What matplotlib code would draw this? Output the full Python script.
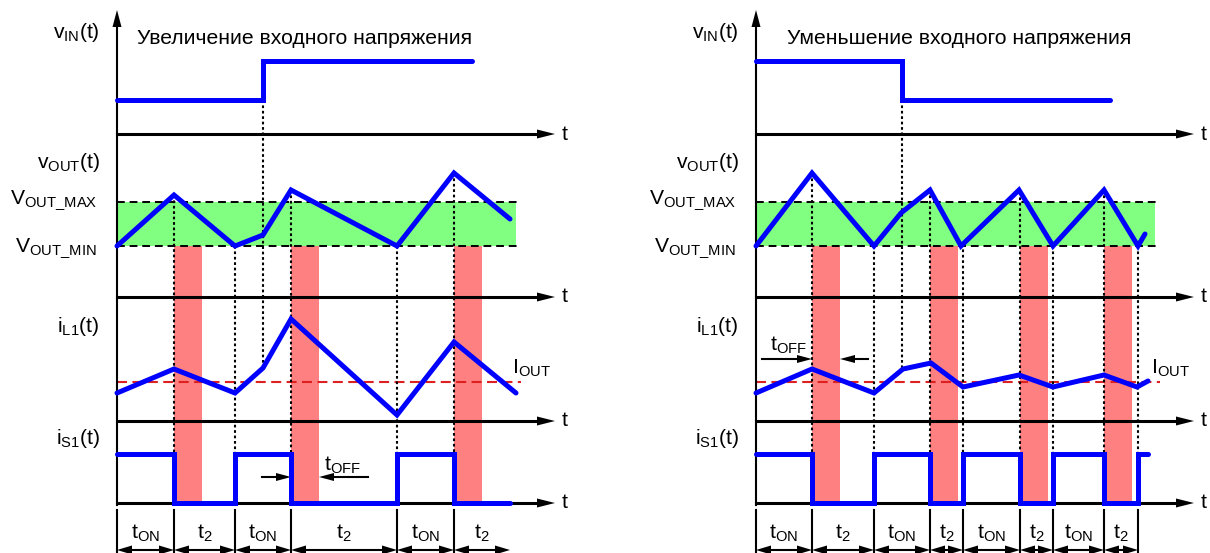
import numpy as np
import matplotlib
matplotlib.use('Agg')
import matplotlib.pyplot as plt
from matplotlib.patches import Polygon, Rectangle

plt.rcParams['font.family'] = ['Liberation Sans', 'DejaVu Sans']
plt.rcParams['mathtext.fontset'] = 'custom'
plt.rcParams['mathtext.rm'] = 'Liberation Sans'
plt.rcParams['mathtext.it'] = 'Liberation Sans'

# signal rows (y grows downwards, pixel units of the sheet)
Y_VIN_AXIS, Y_VOUT_AXIS, Y_IL_AXIS, Y_IS_AXIS = 134, 297, 421, 503
V_OUT_MAX, V_OUT_MIN = 202, 246
I_OUT = 382
IS_HIGH, IS_LOW = 454, 503
T_OFF = 28

# --- increase of input voltage (left) ---
left_title = 'Увеличение входного напряжения'
left_vin_t = [0, 146, 146, 355]
left_vin_v = [100, 100, 61, 61]
left_vout_t = [0, 57, 118, 146, 174, 280, 337, 393]
left_vout_v = [246, 195, 246, 235, 190, 246, 173, 219]
left_il_t = [0, 57, 118, 146, 174, 280, 337, 399]
left_il_v = [393, 369, 393, 368, 319, 415, 342, 393]
left_is_t = [0, 57, 118, 174, 280, 337, 393]
left_is_on = [1, 0, 1, 0, 1, 0]
left_seg_t = [0, 57, 118, 174, 280, 337, 393]
left_seg_lbl = ['ON', '2', 'ON', '2', 'ON', '2']
left_toff_start = [57, 174, 337]

# --- decrease of input voltage (right) ---
right_title = 'Уменьшение входного напряжения'
right_vin_t = [0, 146, 146, 354]
right_vin_v = [61, 61, 100, 100]
right_vout_t = [0, 56, 118, 145, 174, 205, 263, 297, 348, 382, 389]
right_vout_v = [246, 173, 246, 213, 190, 246, 190, 246, 190, 246, 234]
right_il_t = [0, 56, 118, 147, 175, 207, 263, 297, 348, 381, 392]
right_il_v = [393, 369, 393, 369, 363, 387, 375, 387, 375, 387, 381]
right_is_t = [0, 56, 118, 174, 207, 264, 297, 348, 382, 392]
right_is_on = [1, 0, 1, 0, 1, 0, 1, 0, 1]
right_seg_t = [0, 56, 118, 174, 207, 264, 297, 348, 382]
right_seg_lbl = ['ON', '2', 'ON', '2', 'ON', '2', 'ON', '2']
right_toff_start = [56, 174, 264, 348]

BLUE = '#0000FF'
FS = 15.2

fig = plt.figure(figsize=(12.1, 5.53), dpi=100)
ax = fig.add_axes([0, 0, 1, 1])
ax.set_xlim(0, 1210)
ax.set_ylim(553, 0)
ax.axis('off')


def head(x, y, d, length=17, half=4.5):
    if d == 'r':
        pts = [(x, y), (x - length, y - half), (x - length, y + half)]
    elif d == 'l':
        pts = [(x, y), (x + length, y - half), (x + length, y + half)]
    else:
        pts = [(x, y), (x - half, y + length), (x + half, y + length)]
    ax.add_patch(Polygon(pts, closed=True, color='black', lw=0, zorder=6))


def draw_panel(x0, title, title_dx, vin_t, vin_v, vout_t, vout_v, il_t, il_v,
               is_t, is_on, seg_t, seg_lbl, toff_start, closed_end, toff_arrow):
    tip = x0 + 438
    # vertical axis
    ax.plot([x0, x0], [Y_IS_AXIS + 2, 26], color='black', lw=1.5, zorder=5)
    head(x0, 10, 'u')
    # time axes
    for y in (Y_VIN_AXIS, Y_VOUT_AXIS, Y_IL_AXIS, Y_IS_AXIS):
        ax.plot([x0, tip - 15], [y, y], color='black', lw=2.2, zorder=5)
        head(tip, y, 'r', length=18)
        ax.text(tip + 7, y, 't', fontsize=FS, ha='left', va='center')

    ax.text(x0 + title_dx, 38, title, fontsize=FS, ha='left', va='center')

    # allowed output voltage band
    band_end = x0 + 399
    ax.add_patch(Rectangle((x0, V_OUT_MAX), band_end - x0, V_OUT_MIN - V_OUT_MAX,
                           color='#80FF80', lw=0, zorder=1))
    for y in (V_OUT_MAX, V_OUT_MIN):
        ax.plot([x0, x0 + 404], [y, y], color='black', lw=1.4,
                dashes=(4, 2.5), zorder=3)
    ax.plot([x0, x0 + 404], [I_OUT, I_OUT], color='#DD2020', lw=1.5,
            dashes=(4.8, 2.6), zorder=3)

    # t_OFF intervals
    for s in toff_start:
        ax.add_patch(Rectangle((x0 + s, V_OUT_MIN), T_OFF, Y_IS_AXIS - V_OUT_MIN,
                               color='#FF8080', lw=0, zorder=2))

    # switching instants
    marks = seg_t[1:] if closed_end else seg_t[1:-1]
    for t in marks:
        top = np.interp(t, vout_t, vout_v)
        ax.plot([x0 + t, x0 + t], [top, Y_IS_AXIS], color='black', lw=1.5,
                ls=(0, (1.3, 1.3)), zorder=4)
    step_t = vin_t[1]
    ax.plot([x0 + step_t, x0 + step_t], [max(vin_v), np.interp(step_t, il_t, il_v)],
            color='black', lw=1.5, ls=(0, (1.3, 1.3)), zorder=4)

    # waveforms
    kw = dict(color=BLUE, lw=3.6, solid_capstyle='round', solid_joinstyle='miter', zorder=7)
    ax.plot(x0 + np.array(vin_t), vin_v, **kw)
    ax.plot(x0 + np.array(vout_t), vout_v, **kw)
    ax.plot(x0 + np.array(il_t), il_v, **kw)
    lv = [IS_HIGH if s else IS_LOW for s in is_on]
    ax.plot(x0 + np.array(is_t), lv + [lv[-1]], drawstyle='steps-post', **kw)

    # signal names
    ax.text(x0 - 17, 33, r'$\mathrm{v_{IN}(t)}$', fontsize=FS, ha='right', va='center')
    ax.text(x0 - 17, 163, r'$\mathrm{v_{OUT}(t)}$', fontsize=FS, ha='right', va='center')
    ax.text(x0 - 20, 200, r'$\mathrm{V_{OUT\_MAX}}$', fontsize=FS, ha='right', va='center')
    ax.text(x0 - 20, 248, r'$\mathrm{V_{OUT\_MIN}}$', fontsize=FS, ha='right', va='center')
    ax.text(x0 - 17, 327, r'$\mathrm{i_{L1}(t)}$', fontsize=FS, ha='right', va='center')
    ax.text(x0 - 17, 438, r'$\mathrm{i_{S1}(t)}$', fontsize=FS, ha='right', va='center')
    ax.text(x0 + 395, 368, r'$\mathrm{I_{OUT}}$', fontsize=FS, ha='left', va='center')

    # t_OFF dimension arrows
    (r0, r1), (l0, l1), ya, (lx, ly) = toff_arrow
    ax.plot([x0 + r0, x0 + r1 - 14], [ya, ya], color='black', lw=1.5, zorder=6)
    head(x0 + r1, ya, 'r', length=15, half=4)
    ax.plot([x0 + l0, x0 + l1 + 14], [ya, ya], color='black', lw=1.5, zorder=6)
    head(x0 + l1, ya, 'l', length=15, half=4)
    ax.text(x0 + lx, ly, r'$\mathrm{t_{OFF}}$', fontsize=FS, ha='center', va='center')

    # interval row
    ticks = seg_t if closed_end else seg_t[:-1]
    for t in ticks:
        ax.plot([x0 + t, x0 + t], [510, 553], color='black', lw=1.5, zorder=5)
    for a, b, lbl in zip(seg_t[:-1], seg_t[1:], seg_lbl):
        ax.plot([x0 + a + 10, x0 + b - 10], [550, 550], color='black', lw=1.5, zorder=5)
        head(x0 + a, 550, 'l', length=15, half=4.5)
        head(x0 + b, 550, 'r', length=15, half=4.5)
        ax.text(x0 + (a + b) / 2, 533, r'$\mathrm{t_{%s}}$' % lbl, fontsize=FS,
                ha='center', va='center')


draw_panel(117, left_title, 20, left_vin_t, left_vin_v, left_vout_t, left_vout_v,
           left_il_t, left_il_v, left_is_t, left_is_on, left_seg_t, left_seg_lbl,
           left_toff_start, False, ((145, 174), (251, 202), 477, (226, 465)))
draw_panel(756, right_title, 31, right_vin_t, right_vin_v, right_vout_t, right_vout_v,
           right_il_t, right_il_v, right_is_t, right_is_on, right_seg_t, right_seg_lbl,
           right_toff_start, True, ((6, 56), (112, 84), 359, (33, 345)))

fig.savefig('out.png', dpi=100)
